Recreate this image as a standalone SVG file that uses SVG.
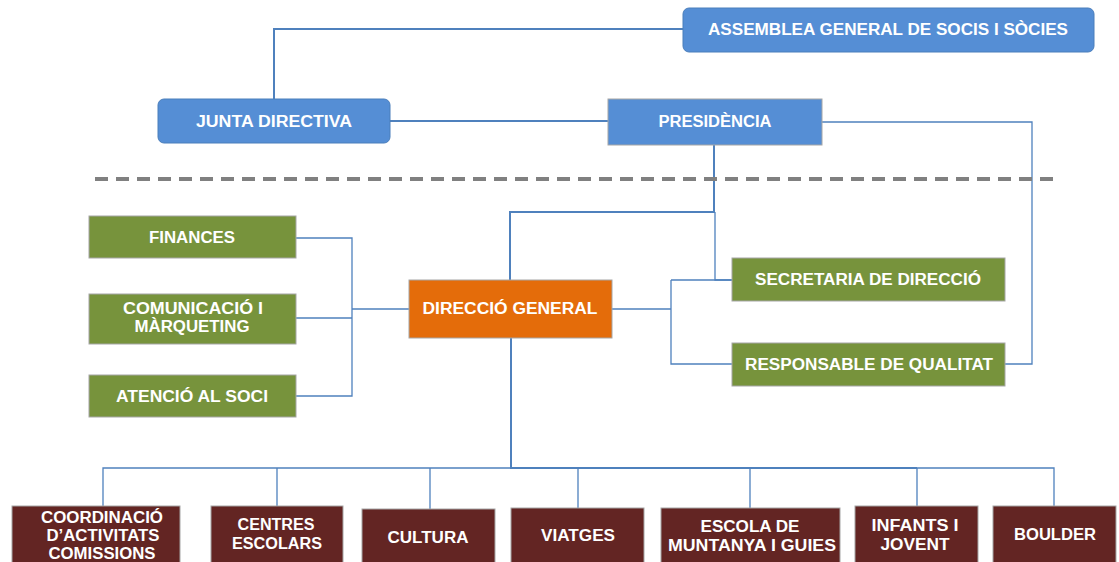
<svg xmlns="http://www.w3.org/2000/svg" width="1119" height="562" viewBox="0 0 1119 562">
<style>
.t{font-family:"Liberation Sans",Arial,sans-serif;font-weight:bold;font-size:16px;fill:#fff;text-anchor:middle;dominant-baseline:central}
.blue{fill:#558ed5;stroke:#4a7ebb;stroke-width:1}
.green{fill:#77933c;stroke:#a6a6a6;stroke-width:1}
.orange{fill:#e46c0a;stroke:#a6a6a6;stroke-width:1}
.brown{fill:#632523;stroke:#a6a6a6;stroke-width:1}
.c{fill:none;stroke:#4f81bd;stroke-width:1.3}
.ct{fill:none;stroke:#4f81bd;stroke-width:2}
</style>
<rect width="1119" height="562" fill="#fff"/>
<g id="connectors">
<path class="ct" d="M683,29 H274 V99"/>
<path class="ct" d="M390,121 H608"/>
<path class="c" d="M822,122 H1032 V364 H1005"/>
<path class="ct" d="M714,145 V212 H510 V280"/>
<path class="c" d="M715,212 V280 H732"/>
<path class="c" d="M296,238 H352 V396 H296 M296,318 H352 M352,309 H409"/>
<path class="c" d="M612,309 H671 M671,280 V364 H732 M671,280 H732"/>
<path class="ct" d="M511,338 V468 H917"/>
<path class="c" d="M103,506 V468 H1054 V506 M277,468 V506 M430,468 V509 M578,468 V508 M750,468 V508 M917,468 V506"/>
<line x1="95" y1="179" x2="1055" y2="179" stroke="#808080" stroke-width="4" stroke-dasharray="13,8"/>
</g>
<g id="assemblea"><rect class="blue" x="683" y="8" width="411" height="44" rx="6"/><text class="t" x="888" y="29" textLength="360" lengthAdjust="spacingAndGlyphs">ASSEMBLEA  GENERAL DE SOCIS I SÒCIES</text></g>
<g id="junta"><rect class="blue" x="158" y="99" width="232" height="44" rx="6"/><text class="t" x="274" y="121" textLength="156" lengthAdjust="spacingAndGlyphs">JUNTA DIRECTIVA</text></g>
<g id="presidencia"><rect class="blue" x="608" y="99" width="214" height="46" style="stroke:#a6a6a6"/><text class="t" x="715" y="121" textLength="113" lengthAdjust="spacingAndGlyphs">PRESIDÈNCIA</text></g>
<g id="finances"><rect class="green" x="89" y="216" width="207" height="42"/><text class="t" x="192" y="237" textLength="86" lengthAdjust="spacingAndGlyphs">FINANCES</text></g>
<g id="comunicacio"><rect class="green" x="89" y="294" width="207" height="50"/><text class="t" x="193" y="308" textLength="140" lengthAdjust="spacingAndGlyphs">COMUNICACIÓ  I</text><text class="t" x="192" y="326" textLength="115" lengthAdjust="spacingAndGlyphs">MÀRQUETING</text></g>
<g id="atencio"><rect class="green" x="89" y="375" width="207" height="42"/><text class="t" x="192" y="396" textLength="152" lengthAdjust="spacingAndGlyphs">ATENCIÓ AL SOCI</text></g>
<g id="direccio"><rect class="orange" x="409" y="280" width="203" height="58"/><text class="t" x="510" y="308" textLength="175" lengthAdjust="spacingAndGlyphs">DIRECCIÓ  GENERAL</text></g>
<g id="secretaria"><rect class="green" x="732" y="258" width="273" height="43"/><text class="t" x="868" y="279" textLength="226" lengthAdjust="spacingAndGlyphs">SECRETARIA  DE DIRECCIÓ</text></g>
<g id="responsable"><rect class="green" x="732" y="343" width="273" height="43"/><text class="t" x="869" y="364" textLength="248" lengthAdjust="spacingAndGlyphs">RESPONSABLE  DE QUALITAT</text></g>
<g id="coordinacio"><rect class="brown" x="12" y="506" width="168" height="60"/><text class="t" x="102" y="517" textLength="122" lengthAdjust="spacingAndGlyphs">COORDINACIÓ</text><text class="t" x="103" y="535" textLength="113" lengthAdjust="spacingAndGlyphs">D’ACTIVITATS</text><text class="t" x="102" y="553" textLength="107" lengthAdjust="spacingAndGlyphs">COMISSIONS</text></g>
<g id="centres"><rect class="brown" x="211" y="506" width="132" height="60"/><text class="t" x="276" y="524" textLength="77" lengthAdjust="spacingAndGlyphs">CENTRES</text><text class="t" x="277" y="543" textLength="90" lengthAdjust="spacingAndGlyphs">ESCOLARS</text></g>
<g id="cultura"><rect class="brown" x="362" y="509" width="133" height="57"/><text class="t" x="428" y="537" textLength="81" lengthAdjust="spacingAndGlyphs">CULTURA</text></g>
<g id="viatges"><rect class="brown" x="511" y="508" width="133" height="58"/><text class="t" x="578" y="535" textLength="74" lengthAdjust="spacingAndGlyphs">VIATGES</text></g>
<g id="escola"><rect class="brown" x="661" y="508" width="179" height="58"/><text class="t" x="750" y="526" textLength="99" lengthAdjust="spacingAndGlyphs">ESCOLA DE</text><text class="t" x="752" y="545" textLength="168" lengthAdjust="spacingAndGlyphs">MUNTANYA I GUIES</text></g>
<g id="infants"><rect class="brown" x="855" y="506" width="123" height="60"/><text class="t" x="915" y="525" textLength="87" lengthAdjust="spacingAndGlyphs">INFANTS I</text><text class="t" x="915" y="544" textLength="69" lengthAdjust="spacingAndGlyphs">JOVENT</text></g>
<g id="boulder"><rect class="brown" x="993" y="506" width="123" height="60"/><text class="t" x="1055" y="534" textLength="82" lengthAdjust="spacingAndGlyphs">BOULDER</text></g>
</svg>
